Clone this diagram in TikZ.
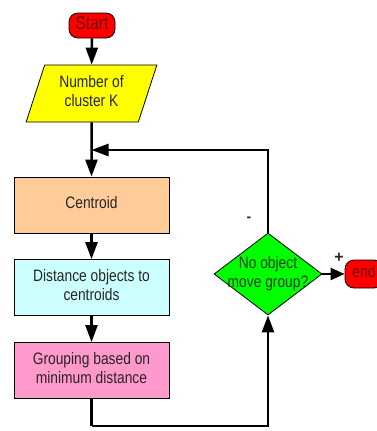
\documentclass[tikz,border=0pt]{standalone}
\usepackage{fontspec}
\setmainfont{Liberation Sans}
\usetikzlibrary{shapes.geometric,arrows.meta}
\definecolor{cpeach}{RGB}{255,204,153}
\definecolor{ccyan}{RGB}{204,255,255}
\definecolor{cpink}{RGB}{255,153,204}
\definecolor{cgreen}{RGB}{0,255,0}
\definecolor{cred}{RGB}{255,0,0}
\definecolor{cyell}{RGB}{255,255,0}
\definecolor{dred}{RGB}{110,0,0}
\newcommand{\talltext}[1]{\raisebox{-1pt}{\scalebox{1}[1.2]{\begin{tabular}{@{}c@{}}#1\end{tabular}}}}
\begin{document}
\begin{tikzpicture}[x=1pt,y=-1pt,
  every node/.style={font=\fontsize{13.8}{16}\selectfont, align=center, inner sep=0pt, text=black!85},
  terminal/.style={draw=black, line width=0.8pt, fill=cred, rounded corners=9pt, minimum height=25pt},
  procbox/.style={draw=black, line width=0.8pt, minimum width=155pt, minimum height=56pt},
  conn/.style={line width=2.5pt, -{Triangle[length=17pt,width=12pt]}},
  plain/.style={line width=2.5pt}]
\useasboundingbox (0,0) rectangle (377,431);
\clip (0,0) rectangle (377,431);
\node[terminal, minimum width=46pt, text=dred, font=\fontsize{15.5}{16}\selectfont] (start) at (92,25.5) {\talltext{Start}};
\node[trapezium, trapezium stretches=true, trapezium left angle=71.6, trapezium right angle=108.4,
  draw=black, line width=0.8pt, fill=cyell, minimum width=131pt, minimum height=57pt] (par) at (91.5,93.5) {\talltext{Number of\\cluster K}};
\node[procbox, fill=cpeach] (cen) at (91.5,205) {\talltext{Centroid}};
\node[procbox, fill=ccyan] (dist) at (91.5,287.5) {\talltext{Distance objects to\\centroids}};
\node[procbox, fill=cpink] (grp) at (91.5,370.5) {\talltext{Grouping based on\\minimum distance}};
\node[diamond, draw=black, line width=0.8pt, fill=cgreen, minimum width=108pt, minimum height=82pt,
  label={[align=center, text=black!75!green]center:\talltext{No object\\move group?}}] (dec) at (268,274) {};
\node[terminal, minimum width=38pt, minimum height=28pt, text=dred, font=\fontsize{13.8}{16}\selectfont] (end) at (364,274) {\talltext{end}};
\coordinate (j) at (91.5,150);
\coordinate (b) at (91.5,426);
\draw[conn] (start) -- (par);
\draw[conn] (par) -- (cen);
\draw[conn] (cen) -- (dist);
\draw[conn] (dist) -- (grp);
\draw[plain] (grp) -- (b);
\draw[conn] (b) -| (dec.south);
\draw[conn] (dec.north) |- (j);
\draw[line width=2.5pt, -{Triangle[length=14pt,width=12pt]}] (dec.east) -- (end.west);
\node[font=\bfseries\fontsize{14}{14}\selectfont] (minus) at (249,219) {-};
\node[font=\bfseries\fontsize{16}{16}\selectfont] (plus) at (339,258) {+};
\end{tikzpicture}
\end{document}
